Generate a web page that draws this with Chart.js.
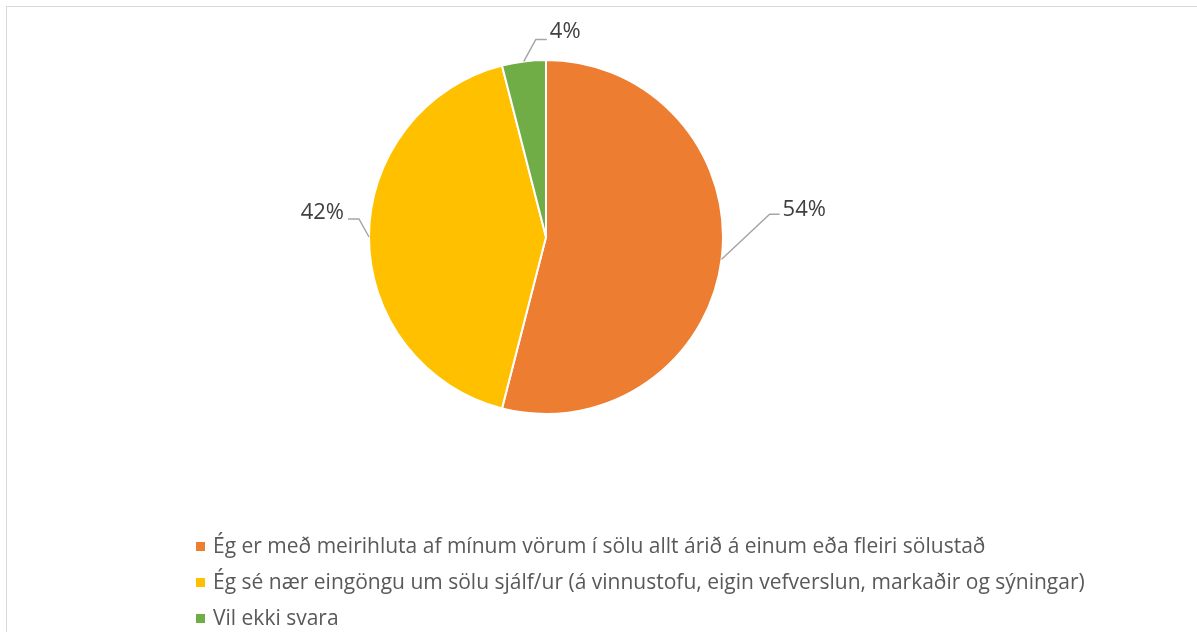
<!DOCTYPE html>
<html>
<head>
<meta charset="utf-8">
<script src="https://cdn.jsdelivr.net/npm/chart.js@4"></script>
<style>
  html, body { margin: 0; padding: 0; background: #fff; }
  body { width: 1197px; height: 632px; overflow: hidden; position: relative; }
  #frame { position: absolute; left: 6px; top: 6px; width: 1200px; height: 640px;
           border-left: 1px solid #d9d9d9; border-top: 1px solid #d9d9d9; }
  #wrap { position: absolute; left: 0; top: 0; width: 1197px; height: 632px; }
  #legend { position: absolute; left: 196px; top: 530px; margin: 0; padding: 0; list-style: none;
            font-family: "Open Sans", sans-serif; font-size: 21px; color: #595959; }
  #legend li { height: 36px; line-height: 30px; white-space: nowrap; }
  #legend span.box { display: inline-block; width: 9px; height: 9px; margin-right: 8px; vertical-align: 2px; }
</style>
</head>
<body>
<div id="frame"></div>
<div id="wrap"><canvas id="pieChart" width="1197" height="632"></canvas></div>
<ul id="legend"></ul>
<script>
// data
var categories = [
    'Ég er með meirihluta af mínum vörum í sölu allt árið á einum eða fleiri sölustað',
    'Ég sé nær eingöngu um sölu sjálf/ur (á vinnustofu, eigin vefverslun, markaðir og sýningar)',
    'Vil ekki svara'
];
var shares = [54, 42, 4];
var sliceColors = ['#ED7D31', '#FFC000', '#70AD47'];

// leader line offsets from the arc edge: [elbow dx, elbow dy, tail length (signed), text dy]
var leaderOffsets = [[48, -45, 10, -4], [-10, -18, -11, -6], [12, -22, 11, -8]];

var ctx = document.getElementById('pieChart').getContext('2d');

var leaderLabels = {
    id: 'leaderLabels',
    afterDatasetsDraw: function (chart) {
        var c = chart.ctx;
        var meta = chart.getDatasetMeta(0);
        c.save();
        c.font = '22px "Open Sans", sans-serif';
        c.textBaseline = 'middle';
        meta.data.forEach(function (arc, i) {
            var p = arc.getProps(['x', 'y', 'startAngle', 'endAngle', 'outerRadius'], true);
            var mid = (p.startAngle + p.endAngle) / 2;
            var ex = p.x + Math.cos(mid) * p.outerRadius;
            var ey = p.y + Math.sin(mid) * p.outerRadius;
            var off = leaderOffsets[i];
            var bx = ex + off[0], by = ey + off[1];
            var tx = bx + off[2];
            c.strokeStyle = '#a6a6a6';
            c.lineWidth = 1.5;
            c.beginPath();
            c.moveTo(ex, ey);
            c.lineTo(bx, by);
            c.lineTo(tx, by);
            c.stroke();
            c.fillStyle = '#404040';
            var txt = shares[i] + '%';
            if (off[2] > 0) {
                c.textAlign = 'left';
                c.fillText(txt, tx + 3, by + off[3]);
            } else {
                c.textAlign = 'right';
                c.fillText(txt, tx - 4, by + off[3]);
            }
        });
        c.restore();
    }
};

var chart = new Chart(ctx, {
    type: 'pie',
    data: {
        labels: categories,
        datasets: [{
            data: shares,
            backgroundColor: sliceColors,
            borderColor: '#ffffff',
            borderWidth: 2
        }]
    },
    options: {
        responsive: false,
        animation: false,
        layout: {
            padding: { left: 368, right: 473, top: 59, bottom: 217 }
        },
        plugins: {
            legend: { display: false },
            tooltip: { enabled: false }
        }
    },
    plugins: [leaderLabels]
});

// html legend
var legendList = document.getElementById('legend');
categories.forEach(function (label, i) {
    legendList.innerHTML += '<li><span class="box" style="background:' + sliceColors[i] + '"></span>' + label + '</li>';
});
</script>
</body>
</html>
